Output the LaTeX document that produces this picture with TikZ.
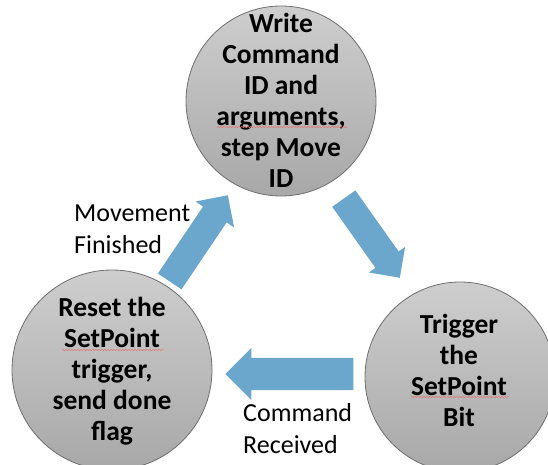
\documentclass[tikz,border=0pt]{standalone}
\usepackage{fontspec}
\setmainfont{Carlito}
\usetikzlibrary{shapes.arrows,decorations.pathmorphing}
\definecolor{arrowblue}{RGB}{107,166,204}
\definecolor{circedge}{RGB}{110,110,110}
\definecolor{circtop}{RGB}{206,206,206}
\definecolor{circbot}{RGB}{168,168,168}
\definecolor{squig}{RGB}{225,120,120}
\tikzset{
  stepcirc/.style={circle, draw=circedge, line width=0.8pt, top color=circtop, bottom color=circbot, inner sep=0pt},
  circtext/.style={align=center, font=\bfseries\fontsize{27.5}{31}\selectfont, inner sep=0pt},
  edgelabel/.style={align=left, font=\fontsize{26}{32}\selectfont, inner sep=0pt},
  blockarrow/.style={single arrow, fill=arrowblue, draw=none, inner xsep=0pt, single arrow tip angle=90, anchor=tip},
  spell/.style={squig, line width=0.6pt, decorate, decoration={snake, amplitude=0.6pt, segment length=3pt}}
}
\begin{document}
\begin{tikzpicture}[x=1pt,y=1pt]
\useasboundingbox (0,0) rectangle (548,464);
% circles
\node[stepcirc, minimum size=190] (top) at (281,363) {};
\node[stepcirc, minimum size=200] (left) at (112,94) {};
\node[stepcirc, minimum size=190] (right) at (460,87) {};
% circle texts
\node[circtext] (toptext) at (281,364) {Write\\Command\\ID and\\arguments,\\step Move\\ID};
\node[circtext] (lefttext) at (112,93) {Reset the\\SetPoint\\trigger,\\send done\\flag};
\node[circtext] (righttext) at (459,94) {Trigger\\the\\SetPoint\\Bit};
% block arrows (placed by their tips)
\node[blockarrow, inner ysep=16pt, single arrow head extend=10pt, minimum height=128, rotate=180] (arrbottom) at (225,90) {};
\node[blockarrow, inner ysep=14pt, single arrow head extend=9pt, minimum height=104, rotate=56] (arrleft) at (228,269) {};
\node[blockarrow, inner ysep=14pt, single arrow head extend=8pt, minimum height=97, rotate=-54.7] (arrright) at (400,186) {};
% labels
\node[edgelabel, anchor=north west] (lblmove) at (74,259) {Movement\\Finished};
\node[edgelabel, anchor=north west] (lblcmd) at (243,61) {Command\\Received};
% spell-check underlines
\draw[spell] (217,337) -- (347,337);
\draw[spell] (62,114) -- (163,114);
\draw[spell] (411,67) -- (509,67);
\end{tikzpicture}
\end{document}
